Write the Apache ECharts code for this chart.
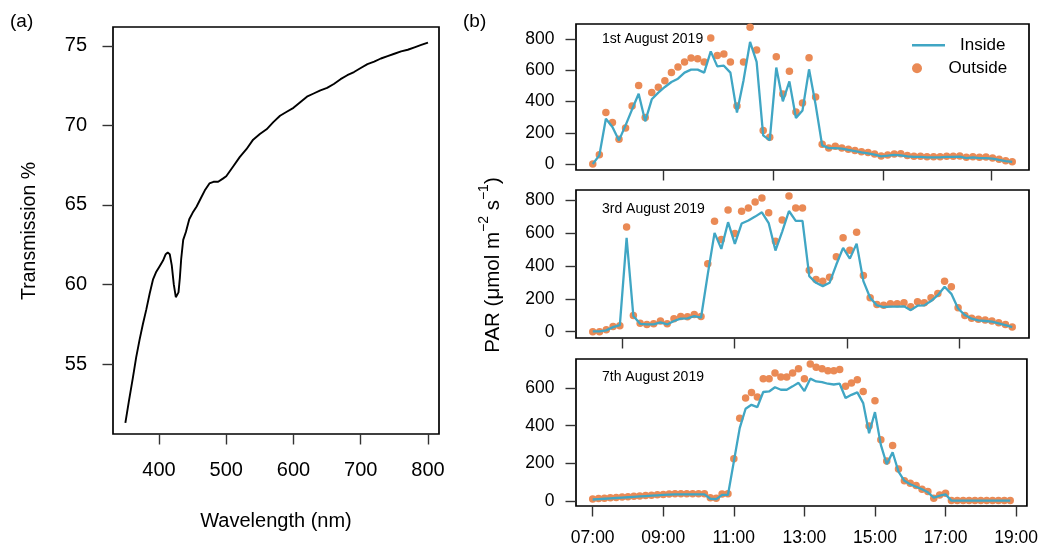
<!DOCTYPE html>
<html>
<head>
<meta charset="utf-8">
<script src="https://cdn.jsdelivr.net/npm/echarts@6/dist/echarts.min.js"></script>
<style>
  html, body { margin: 0; padding: 0; background: #fff; }
  #chart { width: 1041px; height: 548px; }
</style>
</head>
<body>
<div id="chart"></div>
<script>
// ---------- Panel (a): transmission spectrum ----------
const wavelength = [350,355,361,366,371,376,381,386,391,396,401,406,410,413,416,419,422,425,427,429,431,433,436,440,445,450,456,462,468,475,481,488,495,500,510,520,530,540,550,560,570,580,590,600,610,620,630,640,650,660,670,680,690,700,710,720,730,740,750,760,770,780,790,800];
const transmission = [51.3,52.6,54.1,55.4,56.5,57.5,58.4,59.4,60.3,60.8,61.15,61.5,61.9,62.0,61.9,61.2,60.0,59.2,59.1,59.5,60.4,61.6,62.8,63.3,64.1,64.5,64.9,65.4,65.9,66.35,66.45,66.45,66.65,66.8,67.4,68.0,68.5,69.1,69.45,69.75,70.2,70.6,70.85,71.1,71.45,71.8,72.0,72.2,72.35,72.6,72.9,73.15,73.35,73.6,73.85,74.0,74.2,74.35,74.5,74.65,74.75,74.9,75.05,75.2];
const wavelengthTicks = [400,500,600,700,800];
const transmissionTicks = [55,60,65,70,75];

// ---------- Panel (b): PAR, inside vs outside ----------
const dayLabels = ['1st August 2019', '3rd August 2019', '7th August 2019'];
const outside1 = [0,60,329,265,158,230,371,503,297,457,491,533,585,621,653,678,674,653,806,695,704,653,371,653,875,730,215,171,687,448,593,333,390,680,429,126,102,113,102,94,87,79,73,64,51,58,64,66,55,49,49,47,47,47,49,49,51,43,47,43,45,38,30,21,15];
const inside1  = [0,55,290,237,151,247,350,450,273,414,457,493,525,546,585,604,604,585,721,625,629,585,329,535,781,653,183,151,617,401,529,294,343,606,380,119,102,102,98,90,83,75,68,60,49,53,58,55,49,45,45,43,43,43,45,45,47,38,43,38,38,34,26,19,13];
const outside2 = [0,0,12,32,36,636,99,51,44,48,65,48,79,93,91,105,93,412,671,560,739,596,731,752,788,812,723,550,679,824,752,752,374,317,307,331,455,570,495,604,341,206,166,160,170,170,176,152,182,176,206,232,307,273,145,99,81,75,71,65,55,44,28];
const inside2  = [2,2,8,28,40,570,95,48,44,44,57,44,65,79,81,95,85,350,600,503,665,533,657,675,699,725,660,493,608,733,673,673,337,297,277,297,408,509,444,535,307,206,160,150,152,152,154,131,158,160,186,222,273,230,141,101,79,69,65,61,51,40,28];
const outside3 = [11,13,15,17,19,21,23,25,27,29,31,33,35,37,38,38,38,38,38,38,17,14,37,38,225,440,547,577,552,650,650,680,659,659,680,703,650,728,710,703,692,692,698,609,627,644,582,399,533,325,213,295,170,107,94,82,62,50,14,32,41,3,3,3,3,3,3,3,3,3,3,3];
const inside3  = [8,10,12,14,16,18,20,22,24,26,28,30,32,34,35,35,35,35,35,35,12,10,32,32,209,387,490,511,499,579,582,604,591,591,609,628,584,650,635,632,623,619,623,547,564,577,520,360,472,298,195,259,156,107,89,76,62,46,18,28,35,2,2,2,2,2,2,2,2,2,2,2];
const parTicksHigh = [0,200,400,600,800];
const parTicksLow = [0,200,400,600];
const timeLabels = ['07:00','09:00','11:00','13:00','15:00','17:00','19:00'];
const samplesPerLabel = 12; // 10-minute samples between 2-hour labels

const FONT = "'Liberation Sans', Arial, Helvetica, sans-serif";
const ORANGE = '#EA8A55';
const TEAL = '#40A6C4';

const chart = echarts.init(document.getElementById('chart'), null, {renderer: 'canvas'});

const pairs = (arr) => arr.map((v, i) => [i, v]);
const padRange = (n) => ({min: -0.04 * (n - 1), max: (n - 1) * 1.04});

const tickStyle = {color: '#333', width: 1.4};
const noLine = {show: false, onZero: false};

function bX(gridIndex, n, tickVals, labelled) {
  const r = padRange(n);
  return {
    type: 'value', gridIndex, min: r.min, max: r.max, position: 'bottom',
    axisLine: noLine, splitLine: {show: false},
    axisTick: {show: true, inside: false, length: 10.5, lineStyle: tickStyle, customValues: tickVals},
    axisLabel: labelled ? {
      show: true, customValues: tickVals, margin: 23, fontSize: 17.5, fontFamily: FONT, color: '#000',
      formatter: (v) => timeLabels[Math.round(v / samplesPerLabel)]
    } : {show: false}
  };
}
function bY(gridIndex, min, max, ticks) {
  return {
    type: 'value', gridIndex, min, max, position: 'left',
    axisLine: noLine, splitLine: {show: false},
    axisTick: {show: true, inside: false, length: 10.5, lineStyle: tickStyle, customValues: ticks},
    axisLabel: {show: true, customValues: ticks, margin: 21.5, fontSize: 17.5, fontFamily: FONT, color: '#000'}
  };
}

const gridBase = {show: true, borderColor: '#000', borderWidth: 1.7, backgroundColor: 'transparent', containLabel: false};

const bottomTicks = timeLabels.map((_, k) => k * samplesPerLabel);

const option = {
  animation: false,
  backgroundColor: '#fff',
  grid: [
    Object.assign({left: 113, top: 27, width: 326, height: 407}, gridBase),
    Object.assign({left: 576, top: 24, width: 453, height: 146}, gridBase),
    Object.assign({left: 576, top: 190, width: 453, height: 148}, gridBase),
    Object.assign({left: 576, top: 359, width: 453, height: 147}, gridBase)
  ],
  xAxis: [
    {
      type: 'value', gridIndex: 0, min: 331.6, max: 816.4, position: 'bottom',
      axisLine: noLine, splitLine: {show: false},
      axisTick: {show: true, inside: false, length: 10.5, lineStyle: tickStyle, customValues: wavelengthTicks},
      axisLabel: {show: true, customValues: wavelengthTicks, margin: 26, fontSize: 20, fontFamily: FONT, color: '#000'}
    },
    bX(1, outside1.length, [10.8, 27.57, 44.35, 60.87], false),
    bX(2, outside2.length, [4.31, 20.95, 37.55, 54.18], false),
    bX(3, outside3.length, bottomTicks, true)
  ],
  yAxis: [
    {
      type: 'value', gridIndex: 0, min: 50.6, max: 76.18, position: 'left',
      axisLine: noLine, splitLine: {show: false},
      axisTick: {show: true, inside: false, length: 10.5, lineStyle: tickStyle, customValues: transmissionTicks},
      axisLabel: {show: true, customValues: transmissionTicks, margin: 26, fontSize: 20, fontFamily: FONT, color: '#000'}
    },
    bY(1, -38.4, 896, parTicksHigh),
    bY(2, -38.2, 860.6, parTicksHigh),
    bY(3, -26.6, 754.4, parTicksLow)
  ],
  legend: [
    {
      data: [{name: 'Inside', icon: 'rect'}], left: 912, top: 36.7, padding: 0, orient: 'vertical',
      itemWidth: 33, itemHeight: 2.4, selectedMode: false,
      textStyle: {fontSize: 17, fontFamily: FONT, color: '#000', lineHeight: 14, padding: [0, 0, 0, 10]}
    },
    {
      data: [{name: 'Outside', icon: 'circle'}], left: 912, top: 59.7, padding: 0, orient: 'vertical',
      itemWidth: 33, itemHeight: 10, selectedMode: false,
      textStyle: {fontSize: 17, fontFamily: FONT, color: '#000', lineHeight: 10, padding: [0, 0, 0, 10]}
    }
  ],
  series: [
    {
      name: 'Transmission', type: 'line', xAxisIndex: 0, yAxisIndex: 0,
      data: wavelength.map((w, i) => [w, transmission[i]]),
      symbol: 'none', showSymbol: false, lineStyle: {color: '#000', width: 1.9}, silent: true
    },
    {name: 'Outside', type: 'scatter', xAxisIndex: 1, yAxisIndex: 1, data: pairs(outside1), symbolSize: 7.5, itemStyle: {color: ORANGE, opacity: 1}, z: 2},
    {name: 'Inside', type: 'line', xAxisIndex: 1, yAxisIndex: 1, data: pairs(inside1), symbol: 'none', lineStyle: {color: TEAL, width: 2.3}, itemStyle: {color: TEAL}, z: 3},
    {name: 'Outside', type: 'scatter', xAxisIndex: 2, yAxisIndex: 2, data: pairs(outside2), symbolSize: 7.5, itemStyle: {color: ORANGE, opacity: 1}, z: 2},
    {name: 'Inside', type: 'line', xAxisIndex: 2, yAxisIndex: 2, data: pairs(inside2), symbol: 'none', lineStyle: {color: TEAL, width: 2.3}, itemStyle: {color: TEAL}, z: 3},
    {name: 'Outside', type: 'scatter', xAxisIndex: 3, yAxisIndex: 3, data: pairs(outside3), symbolSize: 7.5, itemStyle: {color: ORANGE, opacity: 1}, z: 2},
    {name: 'Inside', type: 'line', xAxisIndex: 3, yAxisIndex: 3, data: pairs(inside3), symbol: 'none', lineStyle: {color: TEAL, width: 2.3}, itemStyle: {color: TEAL}, z: 3}
  ],
  graphic: [
    {type: 'text', x: 10, y: 22, style: {text: '(a)', font: '19px ' + FONT, fill: '#000', align: 'left', verticalAlign: 'middle'}},
    {type: 'text', x: 463, y: 22, style: {text: '(b)', font: '19px ' + FONT, fill: '#000', align: 'left', verticalAlign: 'middle'}},
    {type: 'text', x: 30, y: 231, rotation: Math.PI / 2, style: {text: 'Transmission %', font: '19.5px ' + FONT, fill: '#000', align: 'center', verticalAlign: 'middle'}},
    {type: 'text', x: 276, y: 521, style: {text: 'Wavelength (nm)', font: '20px ' + FONT, fill: '#000', align: 'center', verticalAlign: 'middle'}},
    {
      type: 'text', x: 493, y: 265, rotation: Math.PI / 2,
      style: {
        text: '{n|PAR (\u03bcmol m}{s|\u22122}{n| s}{s|\u22121}{n|)}',
        align: 'center', verticalAlign: 'middle', fill: '#000',
        rich: {
          n: {fontSize: 20.5, fontFamily: FONT, lineHeight: 31, fill: '#000'},
          s: {fontSize: 14, fontFamily: FONT, lineHeight: 14, verticalAlign: 'top', fill: '#000'}
        }
      }
    },
    {type: 'text', x: 602, y: 39, style: {text: dayLabels[0], font: '14px ' + FONT, fill: '#000', align: 'left', verticalAlign: 'middle'}},
    {type: 'text', x: 602, y: 208.7, style: {text: dayLabels[1], font: '14px ' + FONT, fill: '#000', align: 'left', verticalAlign: 'middle'}},
    {type: 'text', x: 602, y: 376.7, style: {text: dayLabels[2], font: '14px ' + FONT, fill: '#000', align: 'left', verticalAlign: 'middle'}}
  ]
};

chart.setOption(option);
</script>
</body>
</html>
